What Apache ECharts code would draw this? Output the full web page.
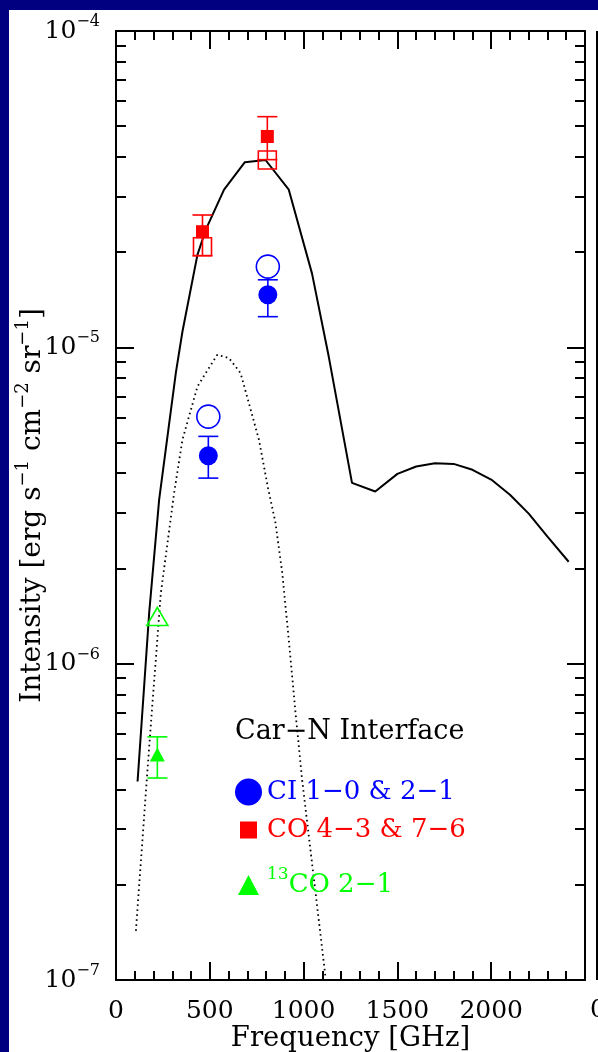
<!DOCTYPE html>
<html>
<head>
<meta charset="utf-8">
<script src="https://cdn.jsdelivr.net/npm/echarts@6/dist/echarts.min.js"></script>
<style>
  html, body { margin: 0; padding: 0; background: #000080; }
  #chart { width: 598px; height: 1052px; }
</style>
</head>
<body>
<div id="chart"></div>
<script>
// Total model emission (solid) and the cool component alone (dotted)
const totalFreq = [115, 177, 230, 319, 354, 434, 478, 576, 687, 797, 921, 1045, 1134, 1258, 1382,
                   1500, 1600, 1700, 1800, 1900, 2000, 2100, 2200, 2300, 2413];
const totalIntensity = [4.24e-7, 1.45e-6, 3.3e-6, 8.3e-6, 1.12e-5, 1.96e-5, 2.35e-5, 3.15e-5, 3.85e-5,
                        3.91e-5, 3.15e-5, 1.71e-5, 9.35e-6, 3.73e-6, 3.5e-6, 3.98e-6, 4.2e-6, 4.3e-6,
                        4.28e-6, 4.1e-6, 3.82e-6, 3.42e-6, 2.98e-6, 2.52e-6, 2.1e-6];
const coolFreq = [106, 177, 239, 310, 354, 434, 478, 540, 602, 664, 708, 762, 810, 850, 886, 921,
                  957, 992, 1045, 1116];
const coolIntensity = [1.43e-7, 5.48e-7, 1.67e-6, 3.47e-6, 5.1e-6, 7.51e-6, 8.29e-6, 9.47e-6, 9.25e-6,
                       8.29e-6, 6.67e-6, 5.1e-6, 3.6e-6, 2.79e-6, 1.94e-6, 1.19e-6, 6.99e-7, 4.3e-7,
                       2.34e-7, 1.03e-7];

// [CI] 1-0 and 2-1: observed (filled, with error bounds) and model (open)
const ciFreq = [492.16, 809.34];
const ciObserved = [4.54e-6, 1.466e-5];
const ciLow = [3.86e-6, 1.25e-5];
const ciHigh = [5.23e-6, 1.635e-5];
const ciModel = [6.04e-6, 1.80e-5];

// CO 4-3 and 7-6
const coFreq = [461.04, 806.65];
const coObserved = [2.32e-5, 4.64e-5];
const coLow = [1.95e-5, 3.92e-5];
const coHigh = [2.62e-5, 5.36e-5];
const coModel = [2.08e-5, 3.91e-5];

// 13CO 2-1
const c13Freq = [220.40];
const c13Observed = [5.16e-7];
const c13Low = [4.35e-7];
const c13High = [5.87e-7];
const c13Model = [1.41e-6];

// Axis ranges and ticks
const freqTicks = [0, 500, 1000, 1500, 2000];
const freqRange = [0, 2500];
const decadeRange = [-7, -4];
const minorMultipliers = [2, 3, 4, 5, 6, 7, 8, 9];

const seriesNames = ['CI 1\u22120 & 2\u22121', 'CO 4\u22123 & 7\u22126', '13CO 2\u22121'];
const titleText = 'Car\u2212N Interface';

const FONT = 'DejaVu Serif';
const BLUE = '#0000ff', RED = '#ff0000', GREEN = '#00ff00', INK = '#000000';

const GRID = { left: 116, top: 31, width: 469, height: 949 };

const zip = (xs, ys) => xs.map((x, i) => [x, ys[i]]);
const zip3 = (xs, lo, hi) => xs.map((x, i) => [x, lo[i], hi[i]]);

const minorLogs = [];
for (let n = decadeRange[0]; n < decadeRange[1]; n++) {
  minorMultipliers.forEach(k => minorLogs.push(n + Math.log10(k)));
}

function errorBars(color) {
  return function (params, api) {
    const x = api.value(0);
    const lo = api.coord([x, api.value(1)]);
    const hi = api.coord([x, api.value(2)]);
    const half = 10;
    const style = { stroke: color, lineWidth: 1.6 };
    return {
      type: 'group',
      children: [
        { type: 'line', shape: { x1: lo[0], y1: lo[1], x2: hi[0], y2: hi[1] }, style },
        { type: 'line', shape: { x1: lo[0] - half, y1: lo[1], x2: lo[0] + half, y2: lo[1] }, style },
        { type: 'line', shape: { x1: hi[0] - half, y1: hi[1], x2: hi[0] + half, y2: hi[1] }, style }
      ]
    };
  };
}

const axisLineStyle = { color: INK, width: 2 };

const xBase = {
  type: 'value',
  min: freqRange[0],
  max: freqRange[1],
  interval: freqTicks[1] - freqTicks[0],
  splitLine: { show: false },
  axisLine: { show: true, onZero: false, lineStyle: axisLineStyle },
  axisTick: { show: true, inside: true, length: 18, lineStyle: axisLineStyle },
  minorTick: { show: true, splitNumber: 5, length: 9, lineStyle: axisLineStyle },
  minorSplitLine: { show: false }
};

const supRich = {
  b: { fontFamily: FONT, fontSize: 25, color: INK, lineHeight: 34 },
  s: { fontFamily: FONT, fontSize: 16, color: INK, lineHeight: 10, verticalAlign: 'top' }
};

const yLogBase = {
  type: 'log',
  logBase: 10,
  min: Math.pow(10, decadeRange[0]),
  max: Math.pow(10, decadeRange[1]),
  splitLine: { show: false },
  minorTick: { show: false },
  axisLine: { show: true, onZero: false, lineStyle: axisLineStyle },
  axisTick: { show: true, inside: true, length: 18, lineStyle: axisLineStyle }
};

// Decade subdivisions (2..9) on companion axes in log10 units; both sit on the
// right-hand side of the layout, one shifted back onto the left frame edge.
const yMinorBase = {
  type: 'value',
  position: 'right',
  min: decadeRange[0],
  max: decadeRange[1],
  splitLine: { show: false },
  axisLine: { show: false, onZero: false },
  axisLabel: { show: false },
  axisTick: { show: true, length: 10, customValues: minorLogs, lineStyle: axisLineStyle }
};

const chart = echarts.init(document.getElementById('chart'), null, { renderer: 'canvas' });

chart.setOption({
  animation: false,
  backgroundColor: '#000080',
  textStyle: { fontFamily: FONT },
  grid: Object.assign({ outerBoundsMode: 'none', containLabel: false }, GRID),
  title: {
    text: titleText, left: 235, top: 717, padding: 0,
    textStyle: { fontFamily: FONT, fontSize: 27, fontWeight: 'normal', color: INK, lineHeight: 30 }
  },
  legend: [
    {
      data: [{ name: seriesNames[0], icon: 'circle' }],
      left: 235, top: 778, padding: 0, itemWidth: 27, itemHeight: 27,
      selectedMode: false,
      formatter: name => '{b|' + name + '}',
      textStyle: {
        fontFamily: FONT, fontSize: 26, color: BLUE, lineHeight: 28,
        rich: { b: { fontFamily: FONT, fontSize: 26, color: BLUE, lineHeight: 28 } }
      }
    },
    {
      data: [{ name: seriesNames[1], icon: 'rect' }],
      left: 240, top: 816, padding: 0, itemWidth: 17, itemHeight: 17,
      selectedMode: false,
      formatter: name => '{b|' + name + '}',
      textStyle: {
        fontFamily: FONT, fontSize: 26, color: RED, lineHeight: 28,
        rich: { b: { fontFamily: FONT, fontSize: 26, color: RED, lineHeight: 28, padding: [0, 0, 0, 5] } }
      }
    },
    {
      data: [{ name: seriesNames[2], icon: 'triangle' }],
      left: 238, top: 866, padding: 0, itemWidth: 21, itemHeight: 20,
      selectedMode: false,
      formatter: name => '{s|' + name.slice(0, 2) + '}{b|' + name.slice(2) + '}',
      textStyle: {
        fontFamily: FONT, fontSize: 26, color: GREEN,
        rich: {
          b: { fontFamily: FONT, fontSize: 26, color: GREEN, lineHeight: 38 },
          s: { fontFamily: FONT, fontSize: 17, color: GREEN, lineHeight: 10, verticalAlign: 'top', padding: [0, 0, 0, 3] }
        }
      }
    }
  ],
  xAxis: [
    Object.assign({}, xBase, {
      position: 'bottom',
      name: 'Frequency [GHz]',
      nameLocation: 'middle',
      nameGap: 44,
      nameMoveOverlap: false,
      nameTextStyle: { fontFamily: FONT, fontSize: 27.5, color: INK, lineHeight: 30 },
      axisLabel: {
        show: true, margin: 19, fontFamily: FONT, fontSize: 25, color: INK, showMaxLabel: false,
        formatter: v => String(v)
      }
    }),
    Object.assign({}, xBase, { position: 'top', axisLabel: { show: false } })
  ],
  yAxis: [
    Object.assign({}, yLogBase, {
      position: 'left',
      name: '{b|Intensity [erg s}{s|\u22121}{b| cm}{s|\u22122}{b| sr}{s|\u22121}{b|]}',
      nameLocation: 'middle',
      nameRotate: 90,
      nameGap: 64,
      nameMoveOverlap: false,
      nameTextStyle: {
        fontFamily: FONT, fontSize: 28, color: INK,
        rich: {
          b: { fontFamily: FONT, fontSize: 28, color: INK, lineHeight: 38 },
          s: { fontFamily: FONT, fontSize: 18, color: INK, lineHeight: 10, verticalAlign: 'top' }
        }
      },
      axisLabel: {
        show: true, margin: 16,
        formatter: v => '{b|10}{s|\u2212' + Math.abs(Math.round(Math.log10(v))) + '}',
        rich: supRich
      }
    }),
    Object.assign({}, yLogBase, { position: 'right', axisLabel: { show: false } }),
    Object.assign({}, yMinorBase, {
      offset: -GRID.width,
      axisTick: Object.assign({}, yMinorBase.axisTick, { inside: false })
    }),
    Object.assign({}, yMinorBase, {
      axisTick: Object.assign({}, yMinorBase.axisTick, { inside: true })
    })
  ],
  graphic: [
    { type: 'rect', z: -100, shape: { x: 9, y: 10, width: 589, height: 1042 }, style: { fill: '#ffffff' } },
    { type: 'line', shape: { x1: 597, y1: 31, x2: 597, y2: 980 }, style: { stroke: INK, lineWidth: 2 } },
    { type: 'text', x: 598, y: 1010, style: { text: '0', font: '25px "DejaVu Serif"', fill: INK, align: 'center', verticalAlign: 'middle' } }
  ],
  series: [
    {
      type: 'line', name: 'Total model', xAxisIndex: 0, yAxisIndex: 0,
      data: zip(totalFreq, totalIntensity), showSymbol: false, symbol: 'none', smooth: false,
      lineStyle: { color: INK, width: 2 }, z: 2
    },
    {
      type: 'line', name: 'Cool component', xAxisIndex: 0, yAxisIndex: 0,
      data: zip(coolFreq, coolIntensity), showSymbol: false, symbol: 'none', smooth: false,
      lineStyle: { color: INK, width: 1.8, type: [1.6, 3.4] }, z: 2
    },
    { type: 'custom', name: 'CI bounds', renderItem: errorBars(BLUE), data: zip3(ciFreq, ciLow, ciHigh), encode: { x: 0, y: [1, 2] }, z: 3 },
    { type: 'custom', name: 'CO bounds', renderItem: errorBars(RED), data: zip3(coFreq, coLow, coHigh), encode: { x: 0, y: [1, 2] }, z: 3 },
    { type: 'custom', name: '13CO bounds', renderItem: errorBars(GREEN), data: zip3(c13Freq, c13Low, c13High), encode: { x: 0, y: [1, 2] }, z: 3 },
    {
      type: 'scatter', name: 'CI model', data: zip(ciFreq, ciModel), symbol: 'circle', symbolSize: 23,
      itemStyle: { color: 'rgba(0,0,0,0)', borderColor: BLUE, borderWidth: 1.6, opacity: 1 }, z: 4
    },
    {
      type: 'scatter', name: 'CO model', data: zip(coFreq, coModel), symbol: 'rect', symbolSize: 18,
      itemStyle: { color: 'rgba(0,0,0,0)', borderColor: RED, borderWidth: 1.6, opacity: 1 }, z: 4
    },
    {
      type: 'scatter', name: '13CO model', data: zip(c13Freq, c13Model), symbol: 'triangle', symbolSize: [21, 18],
      itemStyle: { color: 'rgba(0,0,0,0)', borderColor: GREEN, borderWidth: 1.6, opacity: 1 }, z: 4
    },
    {
      type: 'scatter', name: seriesNames[0], data: zip(ciFreq, ciObserved), symbol: 'circle', symbolSize: 19,
      itemStyle: { color: BLUE, opacity: 1 }, z: 5
    },
    {
      type: 'scatter', name: seriesNames[1], data: zip(coFreq, coObserved), symbol: 'rect', symbolSize: 13,
      itemStyle: { color: RED, opacity: 1 }, z: 5
    },
    {
      type: 'scatter', name: seriesNames[2], data: zip(c13Freq, c13Observed), symbol: 'triangle', symbolSize: [15, 14],
      itemStyle: { color: GREEN, opacity: 1 }, z: 5
    }
  ]
});
</script>
</body>
</html>
